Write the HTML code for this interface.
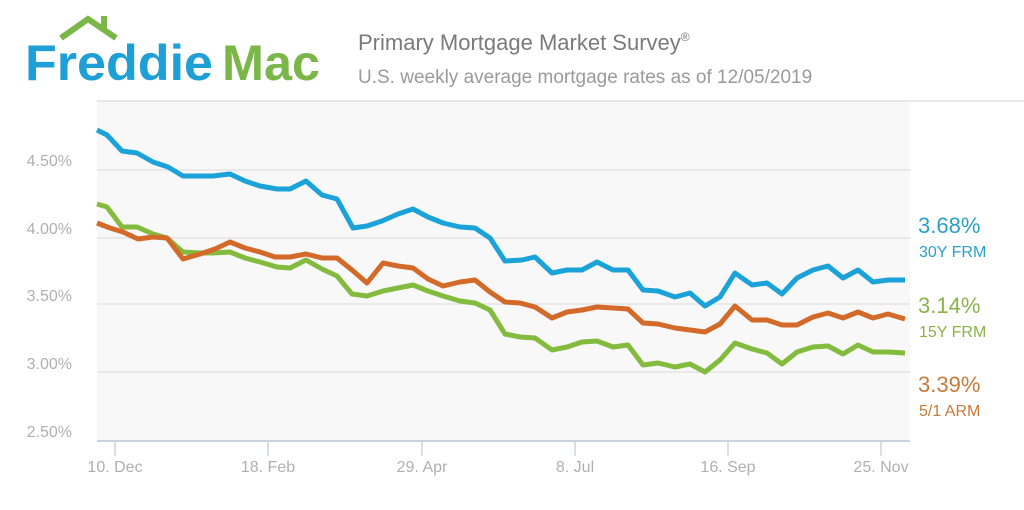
<!DOCTYPE html>
<html><head><meta charset="utf-8"><style>
html,body{margin:0;padding:0;background:#fff;width:1024px;height:510px;overflow:hidden}
svg{display:block}
</style></head><body>
<svg width="1024" height="510" viewBox="0 0 1024 510" xmlns="http://www.w3.org/2000/svg" font-family="Liberation Sans, sans-serif">
<rect x="97" y="101" width="813" height="340" fill="#f8f8f8"/>
<line x1="97" y1="101" x2="1024" y2="101" stroke="#e2e2e2" stroke-width="1.5"/>
<g stroke="#e4e4e4" stroke-width="1.5">
<line x1="97" y1="170" x2="910" y2="170"/>
<line x1="97" y1="238" x2="910" y2="238"/>
<line x1="97" y1="304" x2="910" y2="304"/>
<line x1="97" y1="372" x2="910" y2="372"/>
</g>
<line x1="97" y1="441" x2="910" y2="441" stroke="#ccd3e0" stroke-width="2"/>
<g stroke="#ccd3e0" stroke-width="1.5">
<line x1="115" y1="441" x2="115" y2="456"/><line x1="268" y1="441" x2="268" y2="456"/>
<line x1="422" y1="441" x2="422" y2="456"/><line x1="575" y1="441" x2="575" y2="456"/>
<line x1="728" y1="441" x2="728" y2="456"/><line x1="881" y1="441" x2="881" y2="456"/>
</g>
<g fill="#b0b0b0" font-size="16" text-anchor="end">
<text x="72" y="166">4.50%</text><text x="72" y="234">4.00%</text>
<text x="72" y="301">3.50%</text><text x="72" y="369">3.00%</text>
<text x="72" y="437">2.50%</text>
</g>
<g fill="#b0b0b0" font-size="16" text-anchor="middle">
<text x="115" y="472">10. Dec</text><text x="268" y="472">18. Feb</text>
<text x="422" y="472">29. Apr</text><text x="575" y="472">8. Jul</text>
<text x="728" y="472">16. Sep</text><text x="881" y="472">25. Nov</text>
</g>
<g fill="none" stroke-width="5" stroke-linejoin="round">
<polyline stroke="#83bb3e" points="97,204 107,207 122,227 137,227 153,234 167,238 183,252 200,253 213,253 230,252 245,258 260,262 277,267 290,268 306,260 322,269 337,276 352,294 367,296 383,291 398,288 413,285 428,291 443,296 460,301 475,303 490,310 505,334 520,337 535,338 552,350 567,347 582,342 597,341 613,347 628,345 643,365 658,363 675,367 690,364 705,372 720,360 735,343 752,349 767,353 782,364 797,352 813,347 828,346 843,354 858,345 873,352 888,352 905,353"/>
<polyline stroke="#d46a2a" points="97,223 110,228 123,232 138,239 153,237 167,238 183,259 200,254 215,249 230,242 245,248 260,252 275,257 290,257 306,254 322,258 337,258 352,270 367,283 383,263 398,266 413,268 428,279 443,286 460,282 475,280 490,292 505,302 520,303 535,307 552,318 567,312 582,310 597,307 613,308 628,309 643,323 658,324 675,328 690,330 705,332 720,324 735,306 752,320 767,320 782,325 797,325 813,317 828,313 843,318 858,312 873,318 888,314 905,319"/>
<polyline stroke="#1ba2d9" points="97,130 107,135 122,151 137,153 153,162 168,167 183,176 213,176 230,174 245,181 260,186 277,189 290,189 306,181 322,195 337,199 353,228 367,226 382,221 398,214 413,209 428,217 443,223 460,227 475,228 490,238 505,261 522,260 535,257 552,273 567,270 582,270 597,262 613,270 628,270 643,290 658,291 675,297 690,293 705,306 720,297 735,273 752,285 767,283 782,294 797,278 813,270 828,266 843,278 858,270 873,282 888,280 905,280"/>
</g>
<g font-size="22">
<text x="918" y="233" fill="#2aa0c8">3.68%</text>
<text x="918" y="313" fill="#8ab34a">3.14%</text>
<text x="918" y="392" fill="#c87a3a">3.39%</text>
</g>
<g font-size="16">
<text x="919" y="257" fill="#2aa0c8">30Y FRM</text>
<text x="919" y="337" fill="#8ab34a">15Y FRM</text>
<text x="919" y="416" fill="#c87a3a">5/1 ARM</text>
</g>
<text x="358" y="50" font-size="22" fill="#7a7a7a">Primary Mortgage Market Survey<tspan font-size="12" dy="-9">®</tspan></text>
<text x="358" y="83" font-size="19" fill="#9a9a9a">U.S. weekly average mortgage rates as of 12/05/2019</text>
<polyline points="61,38 88,19 116,38" fill="none" stroke="#7ab648" stroke-width="6" stroke-linejoin="miter"/>
<rect x="101" y="16" width="6" height="13" fill="#7ab648"/>
<text x="25" y="80" font-size="50" font-weight="bold" fill="#1ea0d6" textLength="188" lengthAdjust="spacingAndGlyphs">Freddie</text>
<text x="222" y="80" font-size="50" font-weight="bold" fill="#7ab648" textLength="98" lengthAdjust="spacingAndGlyphs">Mac</text>
</svg>
</body></html>
